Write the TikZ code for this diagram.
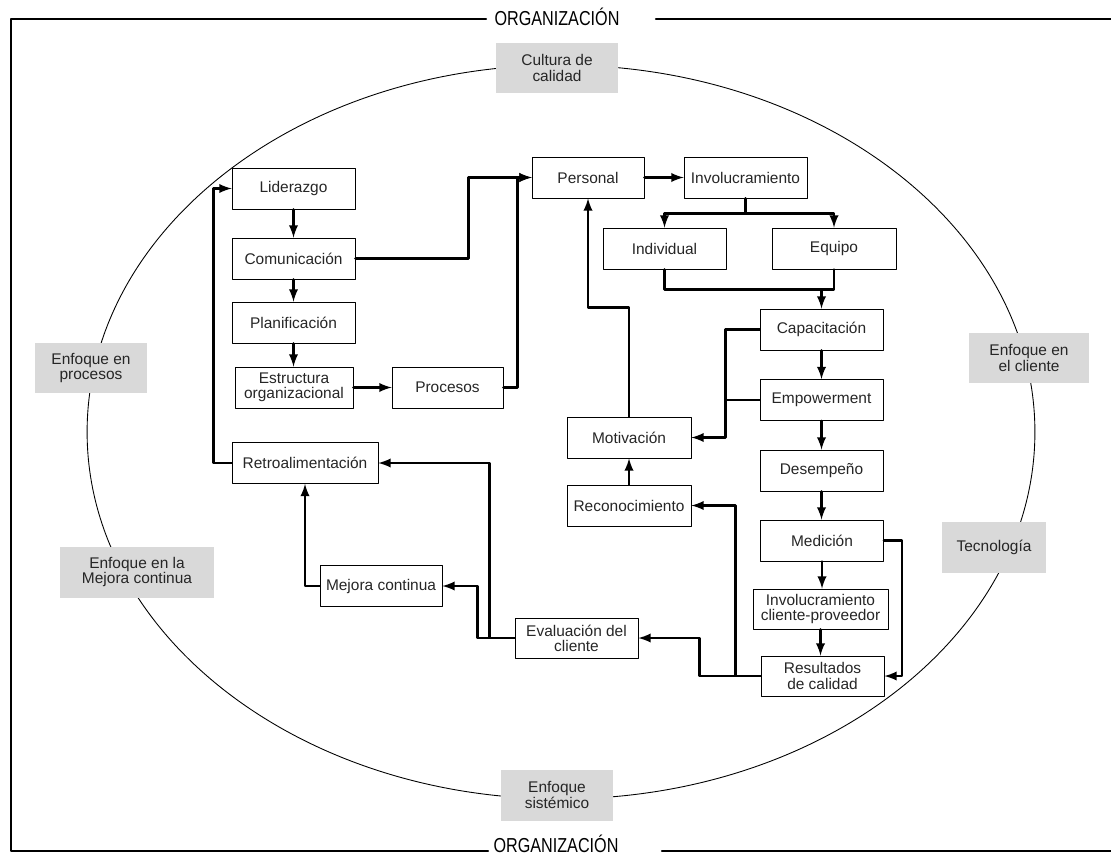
\documentclass[tikz,border=0pt]{standalone}
\usepackage{fontspec}
\setmainfont{Liberation Sans}
\newfontfamily\estrecha[FakeStretch=0.8]{Liberation Sans}
\usepackage{xcolor}

\begin{document}
\begin{tikzpicture}[line cap=round,line join=round,x=0.02cm,y=-0.02cm,
	caja/.style={draw,line width=0.5pt,minimum width=2.46cm,minimum height=0.82cm,inner sep=1pt,align=center,text=black!85,font=\fontsize{8.8}{8.6}\selectfont},
	etiqueta/.style={fill=black!15,minimum height=1.02cm,inner sep=1pt,align=center,text=black!85,font=\fontsize{8.8}{9}\selectfont},
	titulo/.style={inner sep=0pt,font=\estrecha\fontsize{11.5}{13}\selectfont},
	flecha/.style={->,>=latex,line width=1.4pt},
	linea/.style={line width=1.4pt}]
			\useasboundingbox (0,0) rectangle (1111,858);
			% marco de la organizacion
			\node [titulo] (orgA) at (557,17) {ORGANIZACIÓN};
			\node [titulo] (orgB) at (556,844) {ORGANIZACIÓN};
			\draw [line width=1.3pt] (486,19) -- (11,19) -- (11,851) -- (488,851);
			\draw [line width=1.3pt] (656,19) -- (1111,19);
			\draw [line width=1.3pt] (662,851) -- (1111,851);
			\draw [line width=0.5pt] (561,432) ellipse [x radius=9.48cm, y radius=7.34cm];
			% enfoques
			\node [etiqueta,minimum width=2.46cm] (cul) at (557,68) {Cultura de\\calidad};
			\node [etiqueta,minimum width=2.24cm] (enp) at (91,368) {Enfoque en\\procesos};
			\node [etiqueta,minimum width=3.1cm] (enm) at (137,572) {Enfoque en la\\Mejora continua};
			\node [etiqueta,minimum width=2.4cm] (enc) at (1029,358) {Enfoque en\\el cliente};
			\node [etiqueta,minimum width=2.08cm] (tec) at (994,547) {Tecnología};
			\node [etiqueta,minimum width=2.24cm] (ens) at (557,795) {Enfoque\\sistémico};
			% cajas
			\node [caja] (lid) at (293.5,188.5) {Liderazgo};
			\node [caja] (com) at (293.5,258.5) {Comunicación};
			\node [caja] (pla) at (293.5,322.5) {Planificación};
			\node [caja,minimum width=2.36cm] (est) at (294,387.5) {Estructura\\organizacional};
			\node [caja,minimum width=2.22cm] (pro) at (447.5,387.5) {Procesos};
			\node [caja,minimum width=2.92cm] (ret) at (305,463) {Retroalimentación};
			\node [caja,minimum width=2.24cm] (per) at (588,177.5) {Personal};
			\node [caja] (inv) at (745.5,177.5) {Involucramiento};
			\node [caja] (ind) at (664.5,248.5) {Individual};
			\node [caja,minimum width=2.48cm] (equ) at (834,248.5) {Equipo};
			\node [caja] (cap) at (821.5,329.5) {Capacitación};
			\node [caja] (emp) at (821.5,400) {Empowerment};
			\node [caja] (des) at (821.5,470.5) {Desempeño};
			\node [caja] (med) at (822,540.5) {Medición};
			\node [caja,minimum width=2.7cm,minimum height=0.8cm] (icp) at (820.5,609) {Involucramiento\\cliente-proveedor};
			\node [caja,minimum height=0.8cm] (res) at (822.5,676) {Resultados\\de calidad};
			\node [caja,minimum width=2.48cm] (mot) at (629,437.5) {Motivación};
			\node [caja,minimum width=2.48cm] (rec) at (629,505.5) {Reconocimiento};
			\node [caja,minimum width=2.44cm] (mej) at (381,586) {Mejora continua};
			\node [caja,minimum height=0.8cm] (eva) at (576.5,638) {Evaluación del\\cliente};
			% conexiones
			\draw [flecha] (lid) -- (com);
			\draw [flecha] (com) -- (pla);
			\draw [flecha] (pla.south) -- (pla.south |- est.north);
			\draw [flecha] (est) -- (pro);
			\draw [flecha] (com.east) -- ++(113,0) |- (per.west);
			\draw [flecha] (pro.east) -- ++(14,0) |- (per.west);
			\draw [flecha] (per) -- (inv);
			\draw [flecha] (inv.south) -- ++(0,15) -| (ind.north);
			\draw [flecha] (inv.south) -- ++(0,15) -| (equ.north);
			\draw [linea] (ind.south) -- ++(0,20) coordinate (j1) -| (equ.south);
			\draw [flecha] (j1 -| cap.north) -- (cap.north);
			\draw [flecha] (cap) -- (emp);
			\draw [flecha] (emp) -- (des);
			\draw [flecha] (des.south) -- (des.south |- med.north);
			\draw [flecha] (med.south) -- (med.south |- icp.north);
			\draw [flecha] (icp.south) -- (icp.south |- res.north);
			\draw [flecha] (cap.west) -- ++(-34,0) coordinate (j2) |- (mot.east);
			\draw [linea] (emp.west) -- (emp.west -| j2);
			\draw [flecha] (mot.north) -- ++(0,-109) -| (per.south);
			\draw [flecha] (rec) -- (mot);
			\draw [flecha] (med.east) -- ++(18,0) |- (res.east);
			\draw [flecha] (res.west) -- ++(-25,0) |- (rec.east);
			\draw [flecha] (res.west) -- ++(-61,0) |- (eva.east);
			\draw [flecha] (eva.west) -- ++(-25,0) |- (ret.east);
			\draw [flecha] (eva.west) -- ++(-37,0) |- (mej.east);
			\draw [flecha] (mej.west) -| (ret.south);
			\draw [flecha] (ret.west) -- ++(-18,0) |- (lid.west);
			\end{tikzpicture}
\end{document}
